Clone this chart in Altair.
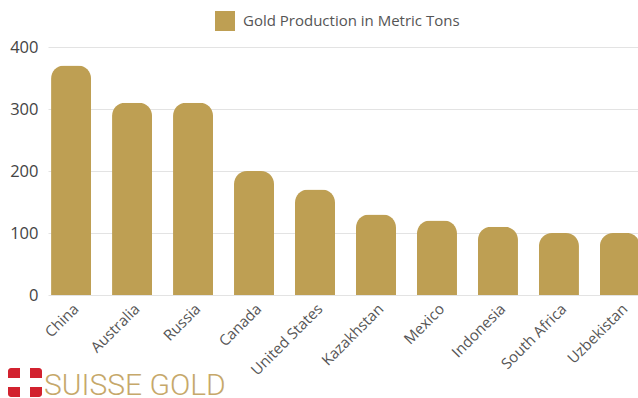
import altair as alt
import pandas as pd

countries = ["China", "Australia", "Russia", "Canada", "United States",
             "Kazakhstan", "Mexico", "Indonesia", "South Africa", "Uzbekistan"]
production = [370, 310, 310, 200, 170, 130, 120, 110, 100, 100]
series_name = "Gold Production in Metric Tons"
y_ticks = [0, 100, 200, 300, 400]

GOLD = "#BE9F53"
FONT = "Open Sans"

df = pd.DataFrame({"country": countries, "value": production, "series": series_name})

bars = alt.Chart(df).mark_bar(
    cornerRadiusTopLeft=13, cornerRadiusTopRight=13
).encode(
    x=alt.X("country:N", sort=None, title=None,
            scale=alt.Scale(range=[0, 595], paddingInner=0.344, paddingOuter=0.05),
            axis=alt.Axis(labelAngle=-45, domain=False, ticks=False, labelPadding=6,
                          labelFontSize=15, labelColor="#555555", labelFont=FONT)),
    y=alt.Y("value:Q", title=None,
            scale=alt.Scale(domain=[0, 400], nice=False),
            axis=alt.Axis(values=y_ticks, domain=False, ticks=False, labelPadding=10,
                          labelFontSize=16.5, labelColor="#444444", labelFont=FONT,
                          gridColor="#e3e3e3", gridWidth=1)),
    color=alt.Color("series:N", scale=alt.Scale(range=[GOLD]),
                    legend=alt.Legend(title=None, orient="none", legendX=167, legendY=-36,
                                      symbolType="square", symbolSize=400,
                                      symbolStrokeWidth=0, labelFontSize=15,
                                      labelColor="#555555", labelFont=FONT,
                                      labelLimit=0, labelOffset=8, padding=0)),
)

one = alt.Data(values=[{}])

logo_bg = alt.Chart(one).mark_rect(color="#D2222F", cornerRadius=3).encode(
    x=alt.value(-40), x2=alt.value(-6), y=alt.value(321), y2=alt.value(350))
logo_h = alt.Chart(one).mark_rect(color="white").encode(
    x=alt.value(-40), x2=alt.value(-6), y=alt.value(331), y2=alt.value(340))
logo_v = alt.Chart(one).mark_rect(color="white").encode(
    x=alt.value(-28), x2=alt.value(-18), y=alt.value(321), y2=alt.value(350))
logo_text = alt.Chart(one).mark_text(
    text="SUISSE GOLD", align="left", baseline="alphabetic", font="Roboto",
    fontWeight=300, fontSize=30, color="#C6A86A"
).encode(x=alt.value(-4), y=alt.value(348))

chart = alt.layer(bars, logo_bg, logo_h, logo_v, logo_text).properties(
    width=590, height=248,
    autosize=alt.AutoSizeParams(type="none"),
    padding={"left": 48, "top": 47, "right": 0, "bottom": 103},
).configure_view(stroke=None)

chart.save("out.html", embed_options={"renderer": "svg", "actions": False})
